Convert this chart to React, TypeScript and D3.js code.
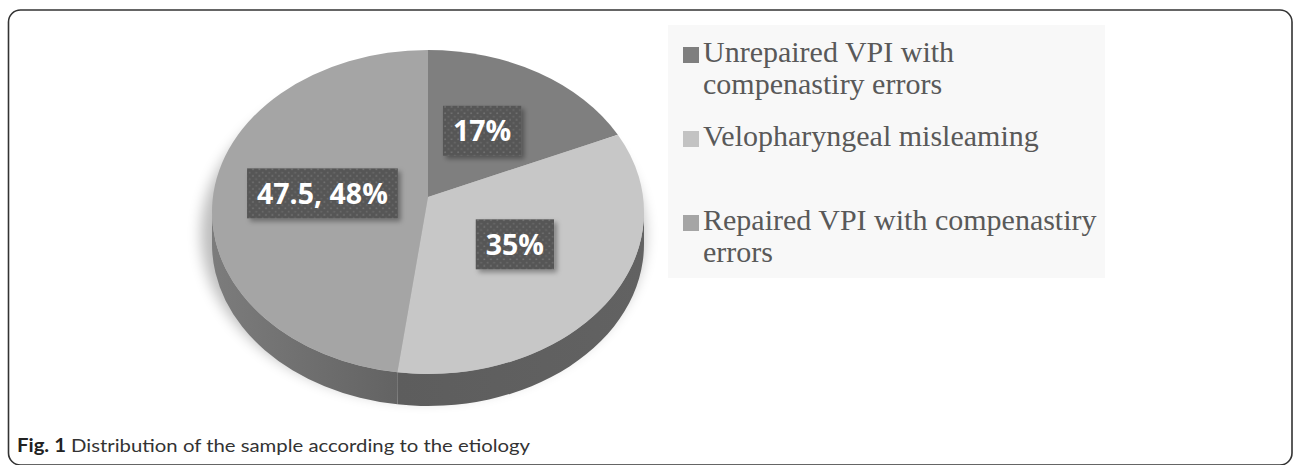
import * as d3 from "d3";
import { useMemo } from "react";

const categories = [
  "Unrepaired VPI with compenastiry errors",
  "Velopharyngeal misleaming",
  "Repaired VPI with compenastiry errors",
];
const values = [17, 35, 47.5];
const sliceLabels = ["17%", "35%", "47.5, 48%"];
const topColors = ["#7f7f7f", "#c7c7c7", "#a5a5a5"];
const sideColors = ["#5a5a5a", "#5e5e5e", "#6c6c6c"];
const legendColors = ["#7f7f7f", "#c3c3c3", "#a5a5a5"];
const captionBold = "Fig. 1";
const captionText = "Distribution of the sample according to the etiology";

const width = 1296;
const height = 465;
const pie3d = { cx: 428, cy: 212, rx: 216, ry: 162, apexY: 197, depth: 32 };
const legendBox = { x: 668, y: 25, w: 437, h: 253 };
const legendFont = "30px 'Liberation Serif'";
const labelFont = "700 28.5px 'Open Sans'";

function measure(text: string, font: string) {
  const ctx = document.createElement("canvas").getContext("2d");
  if (!ctx) return text.length * 14;
  ctx.font = font;
  return ctx.measureText(text).width;
}

function wrap(text: string, maxWidth: number) {
  const words = text.split(" ");
  const lines: string[] = [];
  let line = "";
  words.forEach((w) => {
    const next = line ? `${line} ${w}` : w;
    if (line && measure(next, legendFont) > maxWidth) {
      lines.push(line);
      line = w;
    } else {
      line = next;
    }
  });
  if (line) lines.push(line);
  return lines;
}

// point on the top ellipse, angle measured clockwise from 12 o'clock
function pt(a: number, dy = 0): [number, number] {
  return [pie3d.cx + pie3d.rx * Math.sin(a), pie3d.cy - pie3d.ry * Math.cos(a) + dy];
}

export default function App() {
  const chart = useMemo(() => {
    const arcs = d3.pie<number>().sort(null).value((d) => d)(values);
    const { rx, ry, cx, apexY, depth } = pie3d;

    const slices = arcs.map((a, i) => {
      const p0 = pt(a.startAngle);
      const p1 = pt(a.endAngle);
      const large = a.endAngle - a.startAngle > Math.PI ? 1 : 0;
      const top = `M${cx},${apexY}L${p0[0]},${p0[1]}A${rx},${ry} 0 ${large} 1 ${p1[0]},${p1[1]}Z`;

      // only the front half of the rim is visible
      const s = Math.max(a.startAngle, Math.PI / 2);
      const e = Math.min(a.endAngle, (3 * Math.PI) / 2);
      let side: string | null = null;
      if (s < e) {
        const q0 = pt(s);
        const q1 = pt(e);
        const q2 = pt(e, depth);
        const q3 = pt(s, depth);
        side = `M${q0[0]},${q0[1]}A${rx},${ry} 0 0 1 ${q1[0]},${q1[1]}L${q2[0]},${q2[1]}A${rx},${ry} 0 0 0 ${q3[0]},${q3[1]}Z`;
      }

      const mid = (a.startAngle + a.endAngle) / 2;
      const lx = cx + 0.49 * rx * Math.sin(mid);
      const ly = apexY + 2 - 0.49 * ry * Math.cos(mid);
      const tw = measure(sliceLabels[i], labelFont);
      return { top, side, lx, ly, tw };
    });

    const legend = categories.map((c) => wrap(c, 400));
    return { slices, legend };
  }, []);

  const { cx, cy, rx, ry, depth } = pie3d;

  return (
    <svg
      width={width}
      height={height}
      viewBox={`0 0 ${width} ${height}`}
      style={{ position: "absolute", left: 0, top: 0, background: "#fff" }}
    >
      <defs>
        <filter id="pieShadow" x="-20%" y="-20%" width="140%" height="140%">
          <feGaussianBlur stdDeviation="7" />
        </filter>
        <filter id="boxShadow" x="-20%" y="-30%" width="140%" height="160%">
          <feDropShadow dx="3" dy="3" stdDeviation="2.5" floodColor="#000" floodOpacity="0.35" />
        </filter>
        <pattern id="dots" width="6.5" height="6.5" patternUnits="userSpaceOnUse">
          <rect width="6.5" height="6.5" fill="#575757" />
          <circle cx="2" cy="2" r="0.9" fill="#747474" />
          <circle cx="5.25" cy="5.25" r="0.9" fill="#6a6a6a" />
        </pattern>
        <linearGradient id="side2" x1="0" x2="1" y1="0" y2="0">
          <stop offset="0" stopColor="#7c7c7c" />
          <stop offset="1" stopColor="#636363" />
        </linearGradient>
        <linearGradient id="side1" x1="0" x2="1" y1="0" y2="0">
          <stop offset="0" stopColor="#5d5d5d" />
          <stop offset="1" stopColor="#626262" />
        </linearGradient>
      </defs>

      <rect x={8.5} y={10} width={1283.5} height={455} rx={12} fill="#fff" stroke="#333" strokeWidth={1.6} />

      <rect x={legendBox.x} y={legendBox.y} width={legendBox.w} height={legendBox.h} fill="#f8f8f8" />

      <ellipse
        cx={cx - 5}
        cy={cy + depth / 2 + 6}
        rx={rx + 6}
        ry={ry + 4}
        fill="#000"
        opacity={0.26}
        filter="url(#pieShadow)"
      />

      {chart.slices.map((s, i) =>
        s.side ? (
          <path key={`side-${i}`} d={s.side} fill={i === 2 ? "url(#side2)" : i === 1 ? "url(#side1)" : sideColors[i]} />
        ) : null,
      )}
      {chart.slices.map((s, i) => (
        <path key={`top-${i}`} d={s.top} fill={topColors[i]} />
      ))}

      {chart.slices.map((s, i) => {
        const bw = s.tw + 20;
        const bh = 50;
        return (
          <g key={`lab-${i}`} transform={`translate(${s.lx}, ${s.ly})`}>
            <rect x={-bw / 2} y={-bh / 2} width={bw} height={bh} fill="url(#dots)" filter="url(#boxShadow)" />
            <text x={0} y={10.5} textAnchor="middle" fill="#fff" style={{ font: labelFont }}>
              {sliceLabels[i]}
            </text>
          </g>
        );
      })}

      {chart.legend.map((lines, i) => {
        const base = 62 + i * 84;
        return (
          <g key={`leg-${i}`}>
            <rect x={683} y={base - 15} width={16} height={16} fill={legendColors[i]} />
            <text x={703} y={base} fill="#595959" style={{ font: legendFont }}>
              {lines.map((l, j) => (
                <tspan key={j} x={703} y={base + j * 32}>
                  {l}
                </tspan>
              ))}
            </text>
          </g>
        );
      })}

      <text
        x={17}
        y={452}
        fill="#333"
        textLength={513}
        lengthAdjust="spacingAndGlyphs"
        style={{ font: "18px Lato, 'Noto Sans', sans-serif" }}
      >
        <tspan fontWeight={700} fill="#222">{captionBold}</tspan>
        <tspan> {captionText}</tspan>
      </text>
    </svg>
  );
}
